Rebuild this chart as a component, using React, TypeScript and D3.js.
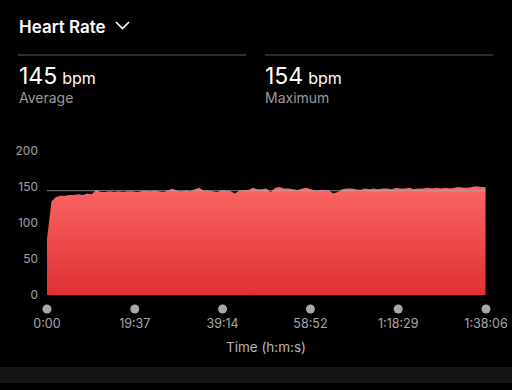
import { scaleLinear, area, line, curveLinear } from "d3";

// heart rate samples, one per minute (bpm)
const SAMPLE_SEC = 60;
const BPM = [
  78, 130, 136, 138, 138, 139, 139, 140, 139, 141, 140, 146, 143, 143, 144,
  143, 144, 143, 144, 144, 143, 144, 145, 144, 145, 144, 143, 145, 148, 145,
  144, 145, 144, 147, 149, 145, 145, 144, 143, 145, 145, 144, 141, 145, 146,
  146, 149, 147, 147, 148, 143, 149, 150, 148, 148, 147, 146, 148, 149, 147,
  145, 146, 146, 145, 141, 143, 147, 148, 148, 147, 146, 148, 147, 148, 147,
  148, 148, 147, 149, 148, 148, 149, 147, 148, 148, 149, 148, 149, 148, 149,
  148, 149, 150, 149, 149, 150, 151, 150, 150,
];

const AVG = 145;
const MAX = 154;
const DURATION = 5886; // 1:38:06
const Y_TICKS = [0, 50, 100, 150, 200];
const X_TICKS = [0, 1177, 2354, 3532, 4709, 5886];
const X_LABELS = ["0:00", "19:37", "39:14", "58:52", "1:18:29", "1:38:06"];

const FONT = "Inter, 'Noto Sans', sans-serif";

const x = scaleLinear().domain([0, DURATION]).range([47, 486]);
const y = scaleLinear().domain([0, 200]).range([295, 151]);

export default function App() {
  const pts = BPM.map((v, i) => ({ t: i * SAMPLE_SEC, v }));

  const areaPath = area<{ t: number; v: number }>()
    .x((d) => x(d.t))
    .y0(y(0))
    .y1((d) => y(d.v))
    .curve(curveLinear)(pts);

  const avgLine = line<number>()
    .x((d) => x(d))
    .y(() => y(AVG))([0, DURATION]);

  return (
    <svg
      width={512}
      height={390}
      style={{ position: "absolute", left: 0, top: 0, background: "#000" }}
      fontFamily={FONT}
    >
      <defs>
        <linearGradient id="hrFill" x1="0" y1="0" x2="0" y2="1">
          <stop offset="0%" stopColor="#fa6666" />
          <stop offset="100%" stopColor="#e0302f" />
        </linearGradient>
      </defs>
      <rect width={512} height={390} fill="#000" />

      {/* header */}
      <text x={19} y={33} fill="#fff" fontSize={17} fontWeight={600}>
        Heart Rate
      </text>
      <polyline
        points="116,22 122.5,28.5 129,22"
        fill="none"
        stroke="#fff"
        strokeWidth={1.6}
      />
      <line x1={18} x2={246} y1={55} y2={55} stroke="#3a3a3a" strokeWidth={1.5} />
      <line x1={265} x2={493} y1={55} y2={55} stroke="#3a3a3a" strokeWidth={1.5} />

      <text x={19} y={84} fill="#fff" fontSize={23}>
        {AVG}
        <tspan fontSize={16} dx={5}>bpm</tspan>
      </text>
      <text x={19} y={103} fill="#9a9a9a" fontSize={14}>
        Average
      </text>
      <text x={265} y={84} fill="#fff" fontSize={23}>
        {MAX}
        <tspan fontSize={16} dx={5}>bpm</tspan>
      </text>
      <text x={265} y={103} fill="#9a9a9a" fontSize={14}>
        Maximum
      </text>

      {/* y labels */}
      {Y_TICKS.map((t) => (
        <text
          key={t}
          x={38}
          y={y(t)}
          dy="0.35em"
          textAnchor="end"
          fill="#a0a0a0"
          fontSize={12}
        >
          {t}
        </text>
      ))}

      <path d={areaPath ?? ""} fill="url(#hrFill)" />
      <path d={avgLine ?? ""} stroke="#b0b0b0" strokeOpacity={0.6} strokeWidth={1.2} />

      {/* x ticks */}
      {X_TICKS.map((t, i) => (
        <g key={t}>
          <circle cx={x(t)} cy={309} r={4.5} fill="#a8a8a8" />
          <text
            x={x(t)}
            y={328}
            textAnchor="middle"
            fill="#a8a8a8"
            fontSize={12.5}
          >
            {X_LABELS[i]}
          </text>
        </g>
      ))}
      <text x={266} y={352} textAnchor="middle" fill="#b8b8b8" fontSize={13.5}>
        Time (h:m:s)
      </text>

      <rect x={0} y={367} width={512} height={16} fill="#151515" />
    </svg>
  );
}
